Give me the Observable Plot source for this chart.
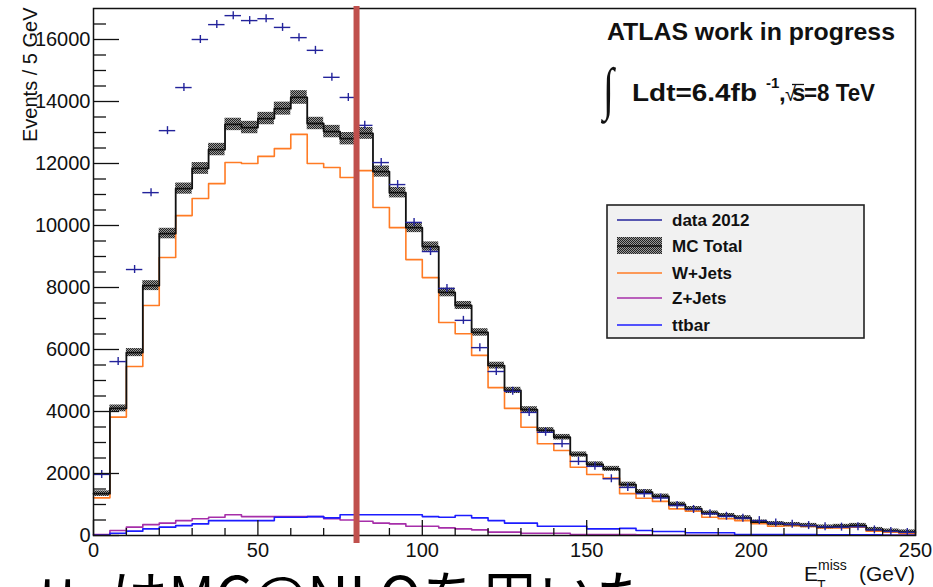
<!DOCTYPE html>
<html><head><meta charset="utf-8">
<script src="https://cdn.jsdelivr.net/npm/d3@7"></script>
<script src="https://cdn.jsdelivr.net/npm/@observablehq/plot@0.6"></script>
<style>
html,body{margin:0;padding:0;background:#fff;overflow:hidden;width:933px;height:587px}
#wrap{position:relative;width:933px;height:587px;overflow:hidden}
#wrap svg{display:block}
.jp{position:absolute;top:565px;font-family:"Noto Sans CJK JP";font-size:58px;line-height:58px;color:#000;white-space:nowrap}
</style></head><body><div id="wrap"></div>
<script>
// ---- data ----
const binLow = [0,5,10,15,20,25,30,35,40,45,50,55,60,65,70,75,80,85,90,95,100,105,110,115,120,125,130,135,140,145,150,155,160,165,170,175,180,185,190,195,200,205,210,215,220,225,230,235,240,245];
const binWidth = 5;
const dataCounts = [1970,5610,8580,11060,13060,14450,16000,16480,16770,16610,16670,16390,16060,15650,14780,14130,13230,12030,11320,10100,9160,7970,6940,6060,5290,4650,3970,3330,2960,2390,2230,1830,1550,1350,1210,970,840,700,620,560,480,400,360,320,280,270,280,180,130,100];
const mcTotal = [1350,4100,5900,8060,9740,11190,11840,12450,13260,13160,13450,13770,14130,13290,13030,12800,12970,11740,11060,9930,9320,7840,7420,6550,5480,4680,4060,3390,3170,2610,2290,2150,1640,1400,1260,1000,860,720,640,570,430,380,350,320,270,290,320,190,140,110];
const mcErr = [90,110,130,160,170,180,190,200,200,200,200,210,220,200,200,200,190,180,170,160,150,140,130,120,110,100,95,90,90,85,85,80,80,80,75,75,75,70,70,70,70,70,70,70,70,70,70,70,70,70];
const wJets = [1215,3820,5450,7420,8970,10320,10870,11350,12030,12000,12230,12480,12940,12000,11870,11550,11770,10580,9930,8900,8320,6870,6510,5810,4770,4100,3490,2960,2740,2200,1970,1850,1350,1200,1100,860,780,590,540,480,380,300,320,290,240,240,270,140,110,60];
const zJets = [30,160,270,350,400,480,540,590,670,610,610,610,610,610,540,500,460,400,375,300,300,245,215,180,110,110,75,75,75,30,30,30,30,20,10,10,10,10,10,10,10,10,10,10,10,10,10,10,10,10];
const ttbar = [10,75,140,215,270,320,375,480,480,480,480,590,590,610,570,670,670,670,670,670,610,590,645,570,480,400,400,300,300,300,215,215,230,160,130,130,90,90,90,30,30,30,30,30,20,20,20,20,10,10];
const xTicks = [0,50,100,150,200,250];
const xMinor = [10,20,30,40,60,70,80,90,110,120,130,140,160,170,180,190,210,220,230,240];
const yTicks = [0,2000,4000,6000,8000,10000,12000,14000,16000];
const yMinor = [500,1000,1500,2500,3000,3500,4500,5000,5500,6500,7000,7500,8500,9000,9500,10500,11000,11500,12500,13000,13500,14500,15000,15500,16500];
const cutValue = [80];
const legendItems = ["data 2012","MC Total","W+Jets","Z+Jets","ttbar"];

const col = {data:"#23239b", mc:"#111111", w:"#ff7b24", z:"#a62ea9", tt:"#1c1cff", cut:"#c0504d"};

const bins = binLow.map((lo,i)=>({lo, hi: lo+binWidth, mid: lo+binWidth/2,
  data: dataCounts[i], mc: mcTotal[i], err: mcErr[i], w: wJets[i], z: zJets[i], tt: ttbar[i]}));
const last = bins[bins.length-1];
const step = key => [...bins.map(b=>({x:b.lo, y:b[key]})), {x:last.hi, y:last[key]}];

const chart = Plot.plot({
  width: 933, height: 587,
  marginLeft: 93, marginRight: 18, marginTop: 8, marginBottom: 52,
  x: {domain: [0,250]},
  y: {domain: [0,17000]},
  style: {fontFamily: "'Liberation Sans', Arial, sans-serif", fontSize: "20px", color: "#111", background: "#fff", overflow: "visible"},
  marks: [
    Plot.rect(bins, {x1:"lo", x2:"hi", y1: d=>d.mc-d.err, y2: d=>d.mc+d.err, fill:"url(#mchatch)"}),
    Plot.line(step("w"), {x:"x", y:"y", curve:"step-after", stroke: col.w, strokeWidth: 1.6}),
    Plot.line(step("z"), {x:"x", y:"y", curve:"step-after", stroke: col.z, strokeWidth: 1.6}),
    Plot.line(step("tt"), {x:"x", y:"y", curve:"step-after", stroke: col.tt, strokeWidth: 1.6}),
    Plot.line(step("mc"), {x:"x", y:"y", curve:"step-after", stroke: col.mc, strokeWidth: 1.8}),
    Plot.ruleY(bins, {x1:"lo", x2:"hi", y:"data", stroke: col.data, strokeWidth: 1.4}),
    Plot.ruleX(bins, {x:"mid", y1:"data", y2:"data", insetTop:-4, insetBottom:-4, stroke: col.data, strokeWidth: 1.4}),
    Plot.ruleY(yTicks, {y: d=>d, x1: 0, x2: 0, insetRight: -26, stroke:"#111", strokeWidth: 1.3}),
    Plot.ruleY(yMinor, {y: d=>d, x1: 0, x2: 0, insetRight: -13, stroke:"#111", strokeWidth: 1.3}),
    Plot.ruleX(xTicks, {x: d=>d, y1: 0, y2: 0, insetTop: -15, stroke:"#111", strokeWidth: 1.3}),
    Plot.ruleX(xMinor, {x: d=>d, y1: 0, y2: 0, insetTop: -7, stroke:"#111", strokeWidth: 1.3}),
    Plot.axisX(xTicks, {tickSize: 0, tickPadding: 7, fontSize: 20, label: null, tickFormat: d=>String(d)}),
    Plot.axisY(yTicks, {tickSize: 0, tickPadding: 3, fontSize: 20, label: null, tickFormat: d=>String(d)}),
    Plot.frame({stroke:"#111", strokeWidth: 1.5}),
    Plot.text(["Events / 5 GeV"], {text: d=>d, frameAnchor:"top-left", rotate:-90, textAnchor:"end", dx:-71, dy:-1, fontSize: 20, fill:"#111"}),
    Plot.ruleX(cutValue, {x: d=>d, stroke: col.cut, strokeWidth: 6, insetTop: -2, insetBottom: -8})
  ]
});

document.getElementById("wrap").appendChild(chart);
const svg = d3.select(chart);

// hatch pattern for MC uncertainty
const defs = svg.insert("defs", ":first-child");
const pat = defs.append("pattern").attr("id","mchatch").attr("width",2).attr("height",2).attr("patternUnits","userSpaceOnUse");
pat.append("rect").attr("width",2).attr("height",2).attr("fill","#9a9a9a");
pat.append("rect").attr("x",0).attr("y",0).attr("width",1).attr("height",1).attr("fill","#222");
pat.append("rect").attr("x",1).attr("y",1).attr("width",1).attr("height",1).attr("fill","#222");

const ann = svg.append("g").attr("font-family","'Liberation Sans', Arial, sans-serif").attr("fill","#111").attr("text-anchor","start");

// ATLAS label
ann.append("text").attr("x",607).attr("y",40).attr("font-weight","bold").attr("font-size",24)
  .attr("textLength",288).attr("lengthAdjust","spacingAndGlyphs").text("ATLAS work in progress");
ann.append("text").attr("transform","translate(603,108) scale(1,1.45)").attr("font-family","'Liberation Serif', serif").attr("font-size",40).text("∫");
ann.append("text").attr("x",632).attr("y",101).attr("font-weight","bold").attr("font-size",24)
  .attr("textLength",125).attr("lengthAdjust","spacingAndGlyphs").text("Ldt=6.4fb");
ann.append("text").attr("x",766).attr("y",88).attr("font-weight","bold").attr("font-size",15).text("-1");
ann.append("text").attr("x",779).attr("y",101).attr("font-weight","bold").attr("font-size",24).text(",");
ann.append("text").attr("x",785).attr("y",101).attr("font-size",20).text("√");
ann.append("line").attr("x1",792).attr("x2",804).attr("y1",84.5).attr("y2",84.5).attr("stroke","#111").attr("stroke-width",1.3);
ann.append("text").attr("x",792).attr("y",101).attr("font-weight","bold").attr("font-size",24).text("s");
ann.append("text").attr("x",804).attr("y",101).attr("font-weight","bold").attr("font-size",24)
  .attr("textLength",71).attr("lengthAdjust","spacingAndGlyphs").text("=8 TeV");

// x-axis label
ann.append("text").attr("x",804).attr("y",581).attr("font-size",21).text("E");
ann.append("text").attr("x",818).attr("y",570).attr("font-size",14).text("miss");
ann.append("text").attr("x",817).attr("y",590).attr("font-size",14).text("T");
ann.append("text").attr("x",915).attr("y",581).attr("text-anchor","end").attr("font-size",21).text("(GeV)");

// legend
const lg = svg.append("g").attr("font-family","'Liberation Sans', Arial, sans-serif").attr("text-anchor","start");
lg.append("rect").attr("x",607).attr("y",205).attr("width",257).attr("height",133)
  .attr("fill","#f1f1f1").attr("stroke","#222").attr("stroke-width",1.6);
const rowY = [220,246,273,298,325];
const rowCol = [col.data, null, col.w, col.z, col.tt];
legendItems.forEach((name,i)=>{
  const y = rowY[i];
  if (rowCol[i]) {
    lg.append("line").attr("x1",617).attr("x2",662).attr("y1",y).attr("y2",y).attr("stroke",rowCol[i]).attr("stroke-width",1.5);
  } else {
    lg.append("rect").attr("x",617).attr("y",y-9).attr("width",45).attr("height",17).attr("fill","url(#mchatch)");
    lg.append("line").attr("x1",617).attr("x2",662).attr("y1",y).attr("y2",y).attr("stroke","#111").attr("stroke-width",1.5);
  }
  lg.append("text").attr("x",672).attr("y",y+6).attr("font-weight","bold").attr("font-size",17).attr("fill","#111").text(name);
});

// slide text below the chart (cut off by the window)
[["tt", 38], ["はMC@NLOを用いた", 110]].forEach(([t, left]) => {
  const d = document.createElement("div");
  d.className = "jp";
  d.style.left = left + "px";
  d.textContent = t;
  document.getElementById("wrap").appendChild(d);
});
</script>
</body></html>
